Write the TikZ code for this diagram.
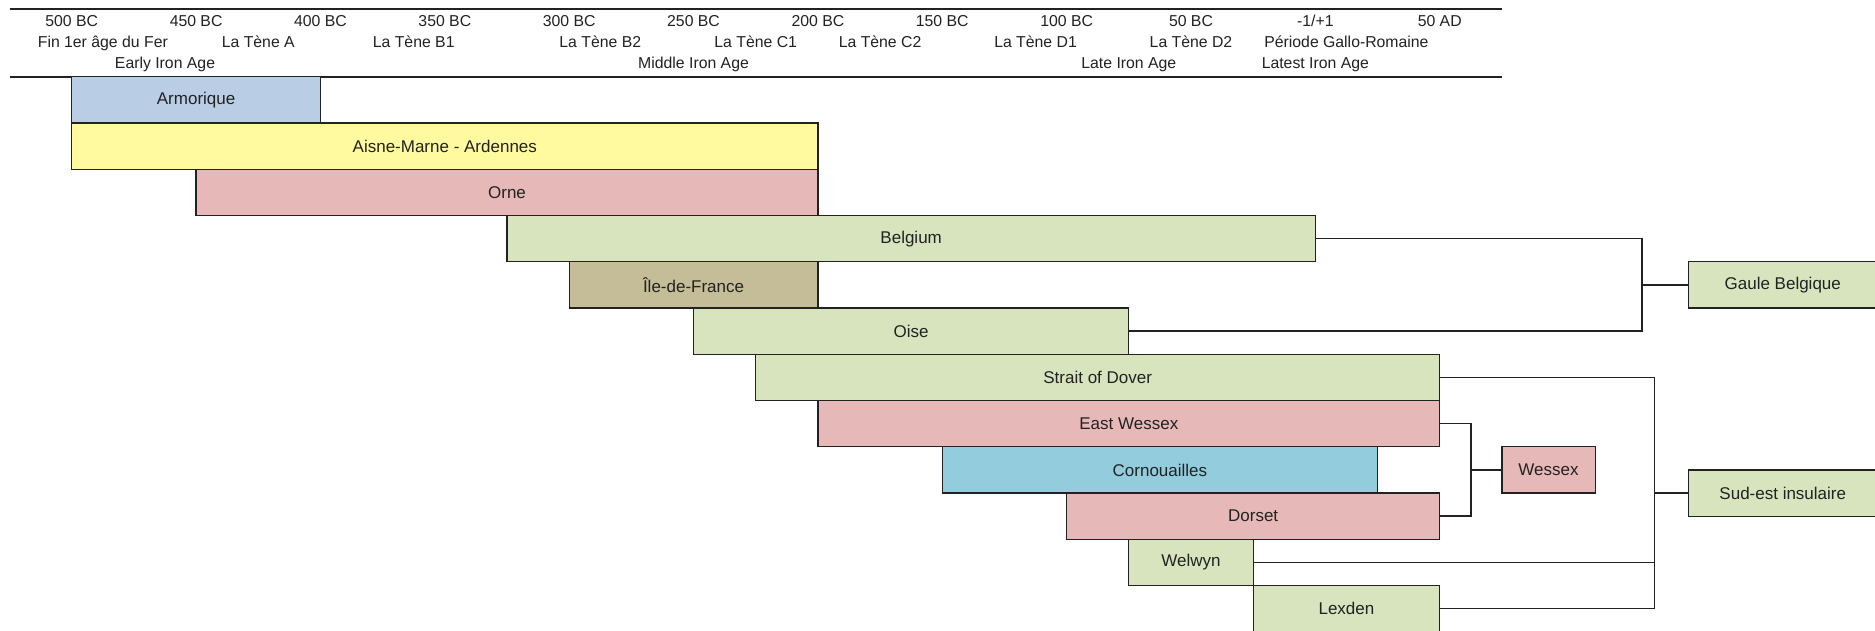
\documentclass[tikz,border=0pt]{standalone}
\usepackage{fontspec}
\setmainfont{Liberation Sans}
\definecolor{cblue}{HTML}{B9CDE5}
\definecolor{cyellow}{HTML}{FFFA9F}
\definecolor{cpink}{HTML}{E6B9B8}
\definecolor{cgreen}{HTML}{D7E4BD}
\definecolor{ctan}{HTML}{C4BD97}
\definecolor{ccyan}{HTML}{93CDDD}
\definecolor{ink}{HTML}{222222}
\newcommand{\KX}[1]{71.75+124.36*(#1)}
\newcommand{\RY}[1]{76.8+46.25*(#1)}
\newcommand{\tlbar}[6]{%
  \node[barbox, fill=#5, minimum width={124.36*((#4)-(#3))}, anchor=north west] (#1) at ({\KX{#3}},{\RY{#2}}) {#6};}
\newcommand{\hlabel}[4]{%
  \node[hdr] (#1) at ({\KX{#2}},#3) {#4};}
\tikzset{
  barbox/.style={draw=ink, line width=1.3pt, inner sep=0pt, outer sep=0pt,
    minimum height=46.25pt, font=\fontsize{17}{20}\selectfont, text=ink},
  hdr/.style={inner sep=0pt, anchor=base, font=\fontsize{15.8}{18}\selectfont, text=ink},
  conn/.style={draw=ink, line width=1.4pt},
  rule/.style={draw=ink, line width=2pt}
}
\begin{document}
\begin{tikzpicture}[x=1pt,y=-1pt]
\path[use as bounding box, clip] (0,0) rectangle (1875,630);
\fill[white] (0,0) rectangle (1875,630);
% header rules
\coordinate (tl) at ({\KX{-0.5}},9.3);
\coordinate (tr) at ({\KX{11.5}},9.3);
\coordinate (bl) at ({\KX{-0.5}},77.3);
\coordinate (br) at ({\KX{11.5}},77.3);
\draw[rule] (tl) -- (tr);
\draw[rule] (bl) -- (br);
% years
\hlabel{y0}{0}{26.7}{500 BC}
\hlabel{y1}{1}{26.7}{450 BC}
\hlabel{y2}{2}{26.7}{400 BC}
\hlabel{y3}{3}{26.7}{350 BC}
\hlabel{y4}{4}{26.7}{300 BC}
\hlabel{y5}{5}{26.7}{250 BC}
\hlabel{y6}{6}{26.7}{200 BC}
\hlabel{y7}{7}{26.7}{150 BC}
\hlabel{y8}{8}{26.7}{100 BC}
\hlabel{y9}{9}{26.7}{50 BC}
\hlabel{y10}{10}{26.7}{-1/+1}
\hlabel{y11}{11}{26.7}{50 AD}
% periods
\hlabel{p0}{0.25}{47.7}{Fin 1er âge du Fer}
\hlabel{p1}{1.5}{47.7}{La Tène A}
\hlabel{p2}{2.75}{47.7}{La Tène B1}
\hlabel{p3}{4.25}{47.7}{La Tène B2}
\hlabel{p4}{5.5}{47.7}{La Tène C1}
\hlabel{p5}{6.5}{47.7}{La Tène C2}
\hlabel{p6}{7.75}{47.7}{La Tène D1}
\hlabel{p7}{9}{47.7}{La Tène D2}
\hlabel{p8}{10.25}{47.7}{Période Gallo-Romaine}
% ages
\hlabel{a0}{0.75}{68.3}{Early Iron Age}
\hlabel{a1}{5}{68.3}{Middle Iron Age}
\hlabel{a2}{8.5}{68.3}{Late Iron Age}
\hlabel{a3}{10}{68.3}{Latest Iron Age}
% bars
\tlbar{armorique}{0}{0}{2}{cblue}{Armorique}
\tlbar{aisne}{1}{0}{6}{cyellow}{Aisne-Marne - Ardennes}
\tlbar{orne}{2}{1}{6}{cpink}{Orne}
\tlbar{belgium}{3}{3.5}{10}{cgreen}{Belgium}
\tlbar{idf}{4}{4}{6}{ctan}{Île-de-France}
\tlbar{oise}{5}{5}{8.5}{cgreen}{Oise}
\tlbar{strait}{6}{5.5}{11}{cgreen}{Strait of Dover}
\tlbar{ewessex}{7}{6}{11}{cpink}{East Wessex}
\tlbar{cornouailles}{8}{7}{10.5}{ccyan}{Cornouailles}
\tlbar{dorset}{9}{8}{11}{cpink}{Dorset}
\tlbar{welwyn}{10}{8.5}{9.5}{cgreen}{Welwyn}
\tlbar{lexden}{11}{9.5}{11}{cgreen}{Lexden}
% groups
\node[barbox, fill=cgreen, minimum width={124.36*1.7}, anchor=north west] (gaule) at ({\KX{13}},{\RY{4}}) {\hspace*{-0.4cm}Gaule Belgique\hspace*{0.4cm}};
\node[barbox, fill=cgreen, minimum width={124.36*1.7}, anchor=north west] (sudest) at ({\KX{13}},{\RY{8.5}}) {\hspace*{-0.4cm}Sud-est insulaire\hspace*{0.4cm}};
\tlbar{wessex}{8}{11.5}{12.25}{cpink}{Wessex}
% connectors
\coordinate (gb) at ({\KX{12.625}},{\RY{4.5}});
\draw[conn] (belgium.east) -| (gb) |- (oise.east);
\draw[conn] (gb) -- (gaule.west);
\coordinate (wb) at ({\KX{11.253}},{\RY{8.5}});
\draw[conn] (ewessex.east) -| (wb) |- (dorset.east);
\draw[conn] (wb) -- (wessex.west);
\coordinate (sb) at ({\KX{12.725}},{\RY{9}});
\draw[conn] (strait.east) -| (sb) |- (lexden.east);
\draw[conn] (welwyn.east) -- (welwyn.east -| sb);
\draw[conn] (sb) -- (sudest.west);
\end{tikzpicture}
\end{document}
